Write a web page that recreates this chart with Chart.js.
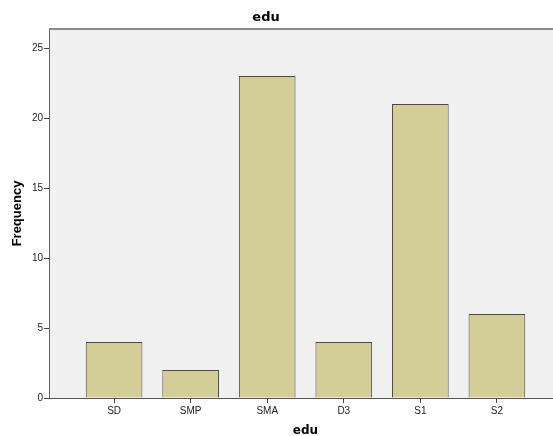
<!DOCTYPE html>
<html><head><meta charset="utf-8">
<script src="https://cdn.jsdelivr.net/npm/chart.js@4"></script>
<style>html,body{margin:0;padding:0;background:#fff;overflow:hidden}#wrap{width:553px;height:436px;position:relative;overflow:hidden}canvas{display:block}</style>
</head><body><div id="wrap"><canvas id="c" width="562" height="436"></canvas></div>
<script>
const categories = ['SD', 'SMP', 'SMA', 'D3', 'S1', 'S2'];
const frequencies = [4, 2, 23, 4, 21, 6];
const yTickValues = [0, 5, 10, 15, 20, 25];
const chartTitle = 'edu';
const xTitle = 'edu';
const yTitle = 'Frequency';

const plotFrame = {
  id: 'plotFrame',
  beforeDraw(chart) {
    const {ctx, chartArea: a} = chart;
    ctx.save();
    ctx.fillStyle = '#f0f0f0';
    ctx.fillRect(a.left, a.top, a.right - a.left, a.bottom - a.top);
    ctx.restore();
  },
  afterDraw(chart) {
    const {ctx, chartArea: a} = chart;
    ctx.save();
    ctx.strokeStyle = '#8a8a8a';
    ctx.lineWidth = 2;
    ctx.beginPath();
    ctx.moveTo(a.left, a.top);
    ctx.lineTo(a.right, a.top);
    ctx.stroke();
    ctx.restore();
  }
};

new Chart(document.getElementById('c'), {
  type: 'bar',
  data: {
    datasets: [{
      data: frequencies.map((v, i) => ({x: i, y: v})),
      backgroundColor: '#d3ce97',
      borderColor: '#4a4a4a',
      borderWidth: 1,
      categoryPercentage: 1,
      barPercentage: 0.74
    }]
  },
  plugins: [plotFrame],
  options: {
    responsive: false,
    animation: false,
    devicePixelRatio: 1,
    layout: {padding: {left: -30, right: 0, top: 0, bottom: 0}},
    plugins: {
      legend: {display: false},
      tooltip: {enabled: false},
      title: {
        display: true,
        text: chartTitle,
        color: '#000',
        font: {family: 'DejaVu Sans', size: 13, weight: 'bold', lineHeight: 1.2},
        padding: {top: 9.4, bottom: 4}
      }
    },
    scales: {
      x: {
        type: 'linear',
        min: -0.85,
        max: 5.85,
        offset: false,
        afterBuildTicks(scale) { scale.ticks = categories.map((_, i) => ({value: i})); },
        afterFit(scale) { scale.height = 38; },
        ticks: {
          autoSkip: false,
          maxRotation: 0,
          padding: 2,
          color: '#222',
          font: {family: 'Liberation Sans', size: 10},
          callback: (v) => categories[v]
        },
        grid: {display: true, drawOnChartArea: false, drawTicks: true, tickLength: 5, tickColor: '#444', offset: false},
        border: {display: true, color: '#555', width: 1},
        title: {
          display: true,
          text: xTitle,
          color: '#000',
          font: {family: 'DejaVu Sans', size: 12, weight: 'bold', lineHeight: 1.2},
          padding: {top: 0, bottom: -2}
        }
      },
      y: {
        min: 0,
        max: 26.36,
        afterBuildTicks(scale) { scale.ticks = yTickValues.map(v => ({value: v})); },
        afterFit(scale) { scale.width = 79; },
        ticks: {
          padding: 1,
          color: '#222',
          font: {family: 'Liberation Sans', size: 10}
        },
        grid: {display: true, drawOnChartArea: false, drawTicks: true, tickLength: 5, tickColor: '#444'},
        border: {display: true, color: '#666', width: 1},
        title: {
          display: true,
          text: yTitle,
          color: '#000',
          font: {family: 'Liberation Sans', size: 13, weight: 'bold', lineHeight: 1.2},
          padding: {top: 40, bottom: 0}
        }
      }
    }
  }
});
</script></body></html>
